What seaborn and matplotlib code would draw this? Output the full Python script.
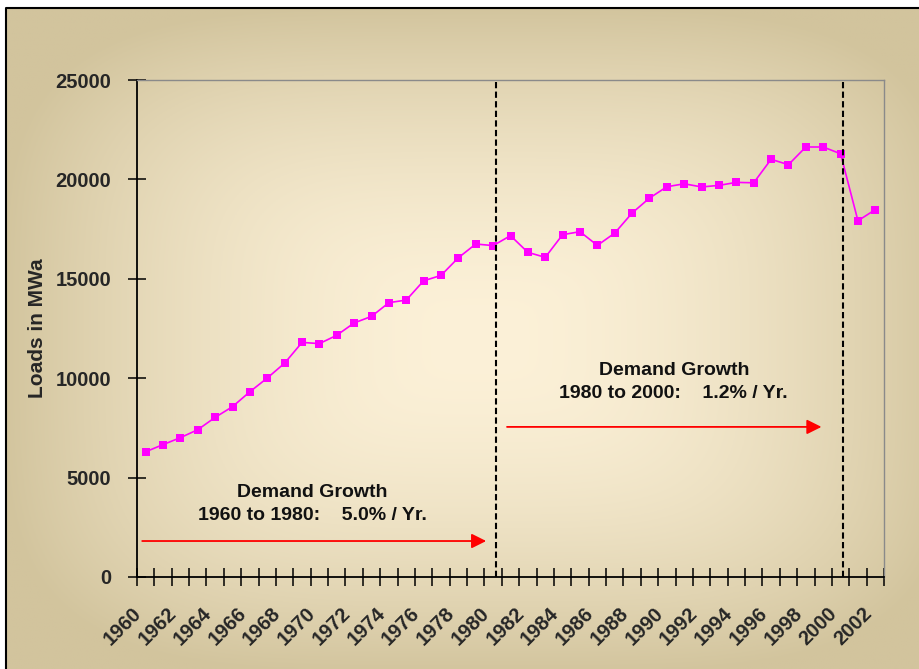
import numpy as np
import pandas as pd
import matplotlib
matplotlib.use("Agg")
import matplotlib.pyplot as plt
import seaborn as sns

# data
years = list(range(1960, 2003))
loads = [6300, 6660, 7010, 7410, 8030, 8570, 9320, 10010, 10760, 11800,
         11740, 12160, 12780, 13110, 13800, 13930, 14900, 15170, 16060, 16750,
         16670, 17170, 16330, 16080, 17220, 17370, 16680, 17300, 18310, 19060,
         19630, 19780, 19620, 19700, 19850, 19830, 21010, 20740, 21630, 21630,
         21290, 17920, 18480]
period_breaks = [1980, 2000]
tick_years = list(range(1960, 2003, 2))
y_ticks = [0, 5000, 10000, 15000, 20000, 25000]

notes = [
    ("Demand Growth\n1960 to 1980:    5.0% / Yr.", 1969.6, 3670),
    ("Demand Growth\n1980 to 2000:    1.2% / Yr.", 1990.4, 9810),
]
arrows = [
    (1959.8, 1979.6, 1810),
    (1980.8, 1998.9, 7550),
]

df = pd.DataFrame({"year": years, "load": loads})

sns.set_style("white")
plt.rcParams["font.family"] = ["Liberation Sans", "DejaVu Sans"]
plt.rcParams["font.weight"] = "bold"

W, H = 920, 669
fig = plt.figure(figsize=(W / 100, H / 100), dpi=100, facecolor="white")

# tan background with a light centre
bg = fig.add_axes([6 / W, 0, 1 - 6 / W, 1 - 8 / H], zorder=0)
gx, gy = np.meshgrid(np.linspace(6, W, 400), np.linspace(8, H, 300))
dx = np.abs(gx - 480) / 480
dy = np.abs(gy - 340) / 335
t = np.clip((dx ** 4 + dy ** 4) ** 0.25, 0, 1) ** 1.8
c0 = np.array([252, 241, 216]) / 255
c1 = np.array([210, 196, 157]) / 255
img = c0[None, None, :] * (1 - t[..., None]) + c1[None, None, :] * t[..., None]
bg.imshow(img, aspect="auto", extent=[0, 1, 0, 1], origin="upper")
bg.set_xlim(0, 1)
bg.set_ylim(0, 1)
bg.axis("off")
bg.plot([0, 0, 1], [0, 1, 1], color="black", lw=1.5, clip_on=False)

ax = fig.add_axes([137 / W, (H - 577) / H, (884 - 137) / W, (577 - 80) / H], zorder=1)
ax.set_facecolor("none")

sns.lineplot(data=df, x="year", y="load", ax=ax, color="#FF00FF",
             marker="s", markersize=6, markeredgewidth=0, linewidth=1.2)

for yr in period_breaks:
    ax.axvline(yr + 0.15, color="black", lw=1.5, ls=(0, (3, 1.6)))

for text, x, y in notes:
    ax.text(x, y, text, ha="center", va="center", fontsize=14,
            fontweight="bold", linespacing=1.45, color="#111111")

for x0, x1, y in arrows:
    ax.annotate("", xy=(x1, y), xytext=(x0, y),
                arrowprops=dict(arrowstyle="-|>", color="red", lw=1.3,
                                mutation_scale=22, shrinkA=0, shrinkB=0))

ax.set_xlim(1959.5, 2002.5)
ax.set_ylim(0, 25000)

# ticks sit on the year boundaries, labels on every second year
ax.set_xticks(np.arange(1959.5, 2003, 1))
ax.set_xticklabels([])
ax.set_xticks(tick_years, minor=True)
ax.set_xticklabels([str(y) for y in tick_years], minor=True, rotation=45,
                   ha="right", va="bottom", rotation_mode="anchor",
                   fontsize=14.5, fontweight="bold")
ax.tick_params(axis="x", which="major", direction="inout", length=13,
               width=1.1, color="black")
ax.tick_params(axis="x", which="minor", length=0, pad=29)

ax.set_yticks(y_ticks)
ax.set_yticklabels([str(v) for v in y_ticks], fontsize=14.5, fontweight="bold")
ax.tick_params(axis="y", direction="inout", length=13, width=1.1,
               color="black", pad=12)
ax.tick_params(left=True, bottom=True)

ax.set_xlabel("")
ax.set_ylabel("Loads in MWa", fontsize=15, fontweight="bold")
ax.yaxis.set_label_coords(-0.12, 0.5)

for side in ["left", "bottom"]:
    ax.spines[side].set_color("black")
    ax.spines[side].set_linewidth(1.3)
for side in ["top", "right"]:
    ax.spines[side].set_color("#8a8a8a")
    ax.spines[side].set_linewidth(1.0)

plt.savefig("out.png", dpi=100)
